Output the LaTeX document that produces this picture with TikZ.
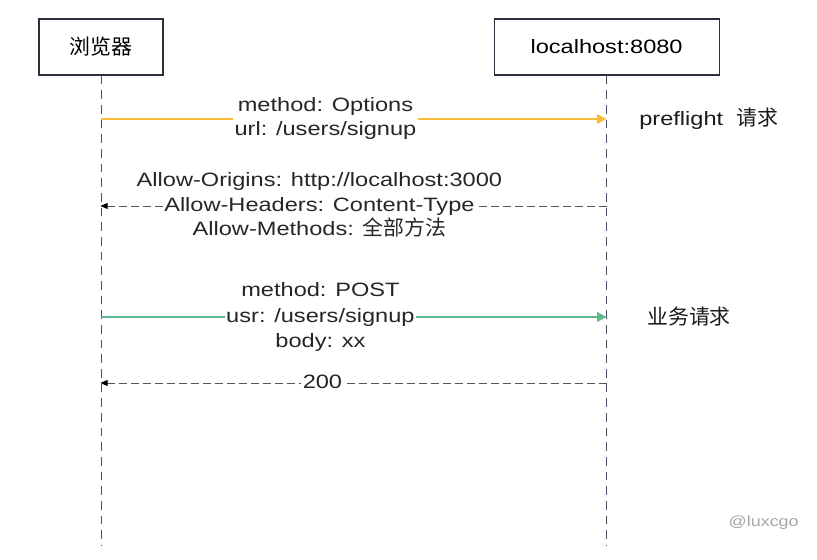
\documentclass[tikz,border=0pt]{standalone}
\usepackage{fontspec}
\setmainfont[FakeStretch=1.22]{Liberation Sans}
\newfontfamily\cjk[Scale=1.08]{Noto Sans CJK SC}
\usetikzlibrary{positioning}
\usetikzlibrary{arrows.meta}
\definecolor{lifegray}{HTML}{4A4E66}
\definecolor{optyellow}{HTML}{F6BC3A}
\definecolor{postgreen}{HTML}{60B78B}
\definecolor{replygray}{HTML}{555555}

\begin{document}
\begin{tikzpicture}[x=0.75pt,y=-0.75pt,
  font=\fontsize{14.5}{18}\selectfont,
  actor/.style = {draw=lifegray!60!black,line width=0.8pt,minimum height=42pt,align=center},
  lifeline/.style = {draw=lifegray,line width=0.75pt,dash pattern=on 6.5pt off 4.5pt},
  msg/.style = {line width=1.5pt,-{Triangle[length=7pt,width=7pt]}},
  reply/.style = {draw=replygray,line width=0.75pt,dash pattern=on 5.5pt off 3.5pt,
        -{Triangle[length=5.5pt,width=4.5pt,black]},shorten >=-0.5pt},
  lbl/.style = {fill=white,inner xsep=1pt,inner ysep=1.75pt,align=center,text=black!85},
  line/.style = {inner xsep=1pt,inner ysep=1.75pt,text height=11pt,text depth=3.5pt,text=black!85},
  note/.style = {anchor=west,text=black!90}
]
 \useasboundingbox (0,0) rectangle (817,560);
 \node[actor,minimum width=93pt] (browser) at (101,47) {\cjk 浏览器};
 \node[actor,minimum width=168.75pt,right=247.5pt of browser] (server) {localhost:8080};
 % lifelines
 \coordinate (bEnd) at (browser |- 0,545);
 \coordinate (sEnd) at (server |- 0,545);
 \draw[lifeline] (browser) -- (bEnd);
 \draw[lifeline] (server) -- (sEnd);
 % message points
 \coordinate (b1) at (browser |- 0,119);
 \coordinate (s1) at (server |- 0,119);
 \coordinate (b2) at (browser |- 0,206);
 \coordinate (s2) at (server |- 0,206);
 \coordinate (b3) at (browser |- 0,317);
 \coordinate (s3) at (server |- 0,317);
 \coordinate (b4) at (browser |- 0,383);
 \coordinate (s4) at (server |- 0,383);
 \begin{scope}
 \draw[msg,optyellow] (b1) -- node[lbl,pos=0.444] (opt) {method: Options\\url: /users/signup} (s1);
 \draw[reply] (s2) -- node[lbl,line,pos=0.568] (hdr) {Allow-Headers: Content-Type} (b2);
 \draw[msg,postgreen] (b3) -- node[lbl,line,pos=0.434] (usr) {usr: /users/signup} (s3);
 \draw[reply] (s4) -- node[lbl,line,pos=0.562] (ok) {200} (b4);
 \end{scope}
 \node[line,above=0pt of hdr] (org) {Allow-Origins: http://localhost:3000};
 \node[line,below=0pt of hdr] (mth) {Allow-Methods: {\cjk 全部方法}};
 \node[line,above=0pt of usr] (pst) {method: POST};
 \node[line,below=0pt of usr] (bdy) {body: xx};
 \node[note,right=21pt of s1] (pre) {preflight\ \ {\cjk 请求}};
 \node[note,right=27pt of s3] (biz) {\cjk 业务请求};
 \node[anchor=west,text=black!35,font=\fontsize{11}{13}\selectfont] (mark) at (724,523) {@luxcgo};
\end{tikzpicture}
\end{document}
